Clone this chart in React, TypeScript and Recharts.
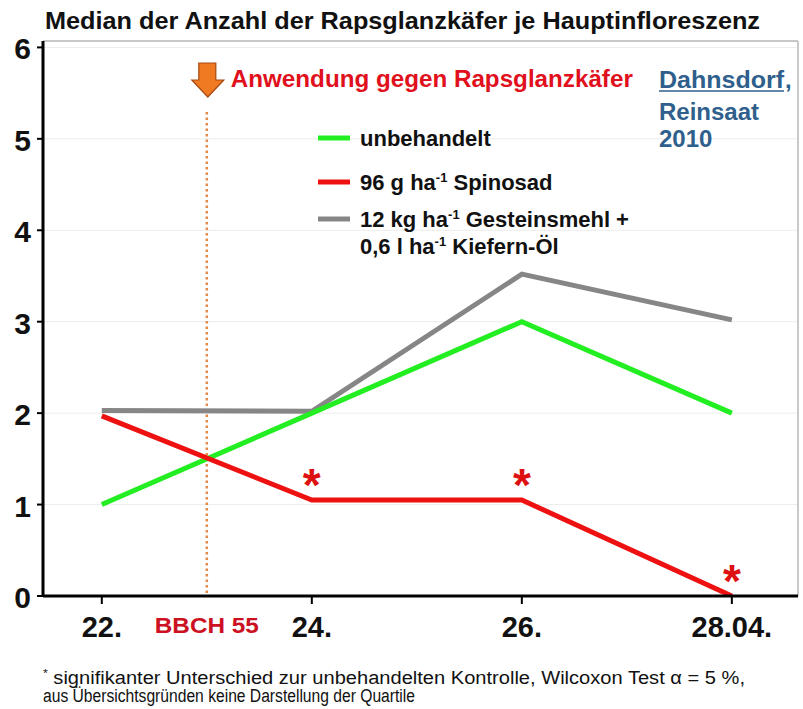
import { LineChart, Line, XAxis, YAxis, CartesianGrid, ReferenceLine, LabelList } from "recharts";

// Erhebungstage (April 2010)
const days = [22, 24, 26, 28];
const unbehandelt = [1, 2, 3, 2];
const spinosad = [1.97, 1.05, 1.05, 0];
const gesteinsmehl = [2.03, 2.02, 3.52, 3.02];
// signifikant zur unbehandelten Kontrolle (Wilcoxon)
const spinosadSignifikant = [false, true, true, true];

const yTicks = [0, 1, 2, 3, 4, 5, 6];
const xTicks = [22, 23, 24, 26, 28];
const xTickLabels = ["22.", "BBCH 55", "24.", "26.", "28.04."];
const anwendungTag = 23;

const FONT = "'Liberation Sans', Arial, sans-serif";
const NARROW = "'Liberation Sans Narrow', 'Liberation Sans', Arial, sans-serif";
const GREEN = "#22ee22";
const RED = "#ee1111";
const GRAY = "#868686";
const ORANGE = "#f07a22";
const BLUE = "#2f5f8c";

const data = days.map((d, i) => ({
  tag: d,
  unbehandelt: unbehandelt[i],
  spinosad: spinosad[i],
  gesteinsmehl: gesteinsmehl[i],
  sig: spinosadSignifikant[i],
}));

// Legende: Farbe + Textzeilen [vor, hochgestellt, nach]
const legendItems = [
  { color: GREEN, y: 138, lines: [["unbehandelt", "", ""]] },
  { color: RED, y: 182, lines: [["96 g ha", "-1", " Spinosad"]] },
  { color: GRAY, y: 219, lines: [["12 kg ha", "-1", " Gesteinsmehl +"], ["0,6 l ha", "-1", " Kiefern-Öl"]] },
];

function YTick(props: any) {
  const { x, y, payload } = props;
  return (
    <text x={x - 4} y={y + 12} textAnchor="end" fontFamily={FONT} fontWeight={700} fontSize={30} fill="#111">
      {payload.value}
    </text>
  );
}

function XTick(props: any) {
  const { x, y, payload } = props;
  const idx = xTicks.indexOf(payload.value);
  const label = xTickLabels[idx];
  if (payload.value === anwendungTag) {
    return (
      <text x={x} y={y + 37} textAnchor="middle" fontFamily={FONT} fontWeight={700} fontSize={22} fill="#cc1122" textLength={104} lengthAdjust="spacingAndGlyphs">
        {label}
      </text>
    );
  }
  return (
    <g>
      <line x1={x} y1={y} x2={x} y2={y + 8} stroke="#000" strokeWidth={2} />
      <text x={x} y={y + 41} textAnchor="middle" fontFamily={FONT} fontWeight={700} fontSize={29} fill="#111">
        {label}
      </text>
    </g>
  );
}

function Stern(props: any) {
  const { x, y, index } = props;
  if (!data[index].sig) return null;
  return (
    <text x={x} y={y + 1} textAnchor="middle" fontFamily={FONT} fontWeight={700} fontSize={46} fill="#dd1111">
      *
    </text>
  );
}

function Anwendung(props: any) {
  const { x1, y1, y2 } = props;
  const cx = x1;
  const top = Math.min(y1, y2);
  const bottom = Math.max(y1, y2);
  return (
    <g>
      <line x1={cx} y1={top + 71} x2={cx} y2={bottom} stroke="#e58a4a" strokeWidth={2.5} strokeDasharray="2.5 3" />
      <path
        d={`M${cx - 8} ${top + 22} H${cx + 9} V${top + 39} H${cx + 17} L${cx + 1} ${top + 56} L${cx - 15} ${top + 39} H${cx - 8} Z`}
        fill={ORANGE}
        stroke="#a84a10"
        strokeWidth={1.2}
      />
      <text x={cx + 24} y={top + 46} fontFamily={FONT} fontWeight={700} fontSize={24} fill="#e0101c" textLength={402} lengthAdjust="spacingAndGlyphs">
        Anwendung gegen Rapsglanzkäfer
      </text>
    </g>
  );
}

export default function App() {
  return (
    <div style={{ position: "relative", width: 803, height: 709, background: "#fff" }}>
      <style>{"body{margin:0}"}</style>
      <LineChart width={803} height={709} data={data} margin={{ top: 41, right: 5, left: 0, bottom: 0 }}>
        <CartesianGrid vertical={false} stroke="#ececec" />
        <XAxis
          dataKey="tag"
          type="number"
          domain={[21.44, 28.63]}
          ticks={xTicks}
          tick={<XTick />}
          tickLine={false}
          tickSize={0}
          tickMargin={0}
          height={113}
          axisLine={{ stroke: "#000", strokeWidth: 3 }}
          allowDataOverflow
        />
        <YAxis
          domain={[0, 6.07]}
          ticks={yTicks}
          tick={<YTick />}
          tickSize={6}
          tickLine={{ stroke: "#000", strokeWidth: 2 }}
          width={43}
          axisLine={{ stroke: "#000", strokeWidth: 3 }}
          allowDataOverflow
        />
        <ReferenceLine y={6.07} stroke="#b8b8b8" strokeWidth={1.5} />
        <ReferenceLine x={28.63} stroke="#b8b8b8" strokeWidth={1.5} />
        <ReferenceLine x={anwendungTag} shape={<Anwendung />} />
        <Line type="linear" dataKey="gesteinsmehl" stroke={GRAY} strokeWidth={5} dot={false} isAnimationActive={false} />
        <Line type="linear" dataKey="unbehandelt" stroke={GREEN} strokeWidth={5} dot={false} isAnimationActive={false} />
        <Line type="linear" dataKey="spinosad" stroke={RED} strokeWidth={5} dot={false} isAnimationActive={false}>
          <LabelList dataKey="spinosad" content={<Stern />} />
        </Line>
      </LineChart>
      <svg width={803} height={709} style={{ position: "absolute", left: 0, top: 0, pointerEvents: "none" }}>
        <text x={45} y={29} fontFamily={FONT} fontWeight={700} fontSize={24} fill="#111" textLength={715} lengthAdjust="spacingAndGlyphs">
          Median der Anzahl der Rapsglanzkäfer je Hauptinfloreszenz
        </text>
        <g fontFamily={FONT} fontWeight={700} fontSize={22} fill="#111">
          {legendItems.map((it, i) => (
            <g key={i}>
              <line x1={318} y1={it.y} x2={350} y2={it.y} stroke={it.color} strokeWidth={5} />
              {it.lines.map((ln, j) => (
                <text key={j} x={360} y={it.y + 8 + j * 27}>
                  {ln[0]}
                  {ln[1] && (
                    <tspan fontSize={13} dy={-8}>
                      {ln[1]}
                    </tspan>
                  )}
                  {ln[1] ? <tspan dy={8}>{ln[2]}</tspan> : ln[2]}
                </text>
              ))}
            </g>
          ))}
        </g>
        <g fontFamily={FONT} fontWeight={700} fontSize={24} fill={BLUE}>
          <text x={659} y={88} textLength={125} lengthAdjust="spacingAndGlyphs">Dahnsdorf</text>
          <line x1={659} y1={91} x2={784} y2={91} stroke={BLUE} strokeWidth={1.5} />
          <text x={785} y={88}>,</text>
          <text x={659} y={120}>Reinsaat</text>
          <text x={659} y={147}>2010</text>
        </g>
        <g fontFamily={NARROW} fontSize={18} fill="#111">
          <text x={43} y={684} textLength={702} lengthAdjust="spacingAndGlyphs">
            <tspan fontSize={11} dy={-7}>*</tspan>
            <tspan dy={7}> signifikanter Unterschied zur unbehandelten Kontrolle, Wilcoxon Test α = 5 %,</tspan>
          </text>
          <text x={43} y={702} textLength={372} lengthAdjust="spacingAndGlyphs">
            aus Übersichtsgründen keine Darstellung der Quartile
          </text>
        </g>
      </svg>
    </div>
  );
}
